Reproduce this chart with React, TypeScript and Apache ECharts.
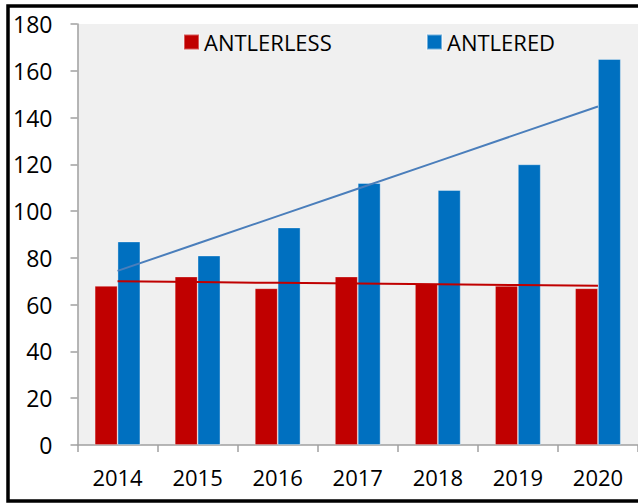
import React, { useEffect, useRef } from "react";
import * as echarts from "echarts";

const years = ["2014", "2015", "2016", "2017", "2018", "2019", "2020"];
const antlerless = [68, 72, 67, 72, 69, 68, 67];
const antlered = [87, 81, 93, 112, 109, 120, 165];
const yTicks = { min: 0, max: 180, interval: 20 };

function linearTrend(values: number[]): number[] {
  const n = values.length;
  const mx = (n - 1) / 2;
  const my = values.reduce((a, b) => a + b, 0) / n;
  let sxy = 0;
  let sxx = 0;
  values.forEach((v, i) => {
    sxy += (i - mx) * (v - my);
    sxx += (i - mx) * (i - mx);
  });
  const slope = sxy / sxx;
  return values.map((_, i) => +(my + slope * (i - mx)).toFixed(3));
}

const FONT = "'Open Sans', 'Liberation Sans', sans-serif";

export default function App() {
  const ref = useRef<HTMLDivElement>(null);
  useEffect(() => {
    if (!ref.current) return;
    const chart = echarts.init(ref.current, undefined, { renderer: "svg" });
    chart.setOption({
      animation: false,
      backgroundColor: "#ffffff",
      textStyle: { fontFamily: FONT },
      graphic: [
        {
          type: "rect",
          shape: { x: 8, y: 6, width: 640, height: 495 },
          style: { fill: "none", stroke: "#000000", lineWidth: 3.5 },
          z: 100,
        },
      ],
      legend: [
        {
          data: ["ANTLERLESS"],
          left: 183,
          top: 31,
          padding: 0,
          icon: "rect",
          itemWidth: 15,
          itemHeight: 15,
          textStyle: { fontSize: 22, color: "#000", fontFamily: FONT },
        },
        {
          data: ["ANTLERED"],
          left: 426,
          top: 31,
          padding: 0,
          icon: "rect",
          itemWidth: 15,
          itemHeight: 15,
          textStyle: { fontSize: 22, color: "#000", fontFamily: FONT },
        },
      ],
      grid: {
        left: 77.5,
        top: 24,
        right: -3.6,
        bottom: 58,
        show: true,
        backgroundColor: "#f0f0f0",
        borderWidth: 0,
      },
      xAxis: {
        type: "category",
        data: years,
        axisLine: { show: true, lineStyle: { color: "#a0a0a0", width: 1.5 } },
        axisTick: { show: true, length: 7, lineStyle: { color: "#a0a0a0", width: 1.5 } },
        axisLabel: { fontSize: 22, color: "#000", margin: 21, fontFamily: FONT },
        splitLine: { show: false },
      },
      yAxis: {
        type: "value",
        min: yTicks.min,
        max: yTicks.max,
        interval: yTicks.interval,
        axisLine: { show: true, lineStyle: { color: "#a0a0a0", width: 1.5 } },
        axisTick: { show: true, length: 7, lineStyle: { color: "#a0a0a0", width: 1.5 } },
        axisLabel: { fontSize: 23, color: "#000", margin: 25, fontFamily: FONT },
        splitLine: { show: false },
      },
      series: [
        {
          name: "ANTLERLESS",
          type: "bar",
          data: antlerless,
          itemStyle: { color: "#c00000", borderColor: "rgba(255,255,255,0.35)", borderWidth: 0.8 },
          barGap: "0%",
          barCategoryGap: "43%",
        },
        {
          name: "ANTLERED",
          type: "bar",
          data: antlered,
          itemStyle: { color: "#0070c0", borderColor: "rgba(255,255,255,0.45)", borderWidth: 0.8 },
          barGap: "0%",
          barCategoryGap: "43%",
        },
        {
          name: "ANTLERLESS trend",
          type: "line",
          data: linearTrend(antlerless),
          symbol: "none",
          lineStyle: { color: "#c00000", width: 2 },
          itemStyle: { color: "#c00000" },
          z: 5,
        },
        {
          name: "ANTLERED trend",
          type: "line",
          data: linearTrend(antlered),
          symbol: "none",
          lineStyle: { color: "#4a7ebb", width: 2 },
          itemStyle: { color: "#4a7ebb" },
          z: 5,
        },
      ],
    });
    return () => chart.dispose();
  }, []);
  return (
    <div
      ref={ref}
      style={{ position: "absolute", left: 0, top: 0, width: 638, height: 503 }}
    />
  );
}
